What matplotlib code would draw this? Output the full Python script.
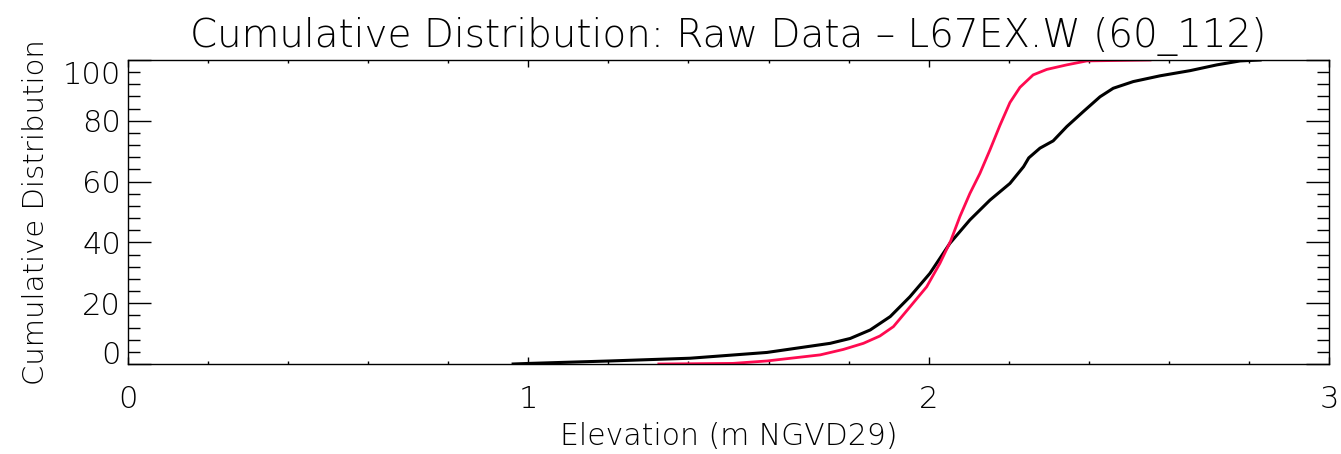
import matplotlib

matplotlib.use("Agg")
import matplotlib.pyplot as plt
from matplotlib.ticker import MultipleLocator, FixedLocator, FixedFormatter
from matplotlib.transforms import ScaledTranslation

# raw data cumulative distribution (black)
raw_x = [0.962, 1.004, 1.204, 1.404, 1.596, 1.754, 1.804, 1.854, 1.904, 1.953,
         2.003, 2.053, 2.103, 2.153, 2.203, 2.237, 2.250, 2.278, 2.311, 2.345,
         2.386, 2.428, 2.461, 2.511, 2.578, 2.653, 2.720, 2.778, 2.828]
raw_y = [0.0, 0.2, 1.0, 1.9, 3.8, 6.8, 8.4, 11.2, 15.6, 22.1,
         29.8, 39.7, 47.4, 53.9, 59.4, 64.9, 67.8, 71.0, 73.4, 78.1,
         83.0, 87.9, 90.7, 92.9, 94.8, 96.5, 98.4, 99.7, 100.0]

# fitted / smoothed distribution (red)
fit_x = [1.326, 1.511, 1.596, 1.729, 1.787, 1.837, 1.878, 1.912, 1.954, 1.995,
         2.028, 2.055, 2.078, 2.103, 2.128, 2.153, 2.178, 2.203, 2.228, 2.261,
         2.295, 2.345, 2.395, 2.553]
fit_y = [0.0, 0.2, 1.0, 3.0, 4.8, 6.8, 9.2, 12.3, 18.9, 25.4,
         33.1, 40.5, 48.5, 56.1, 62.7, 70.4, 78.5, 86.0, 91.0, 95.1,
         96.9, 98.4, 99.7, 100.0]

y_ticks = [0, 20, 40, 60, 80, 100]
y_labels = ["0", "20", "40", "60", "80", "100"]
x_ticks = [0, 1, 2, 3]
x_labels = ["0", "1", "2", "3"]

FONT = dict(family=["DejaVu Sans"], fontweight="light")

fig = plt.figure(figsize=(13.41, 4.54), dpi=100)
ax = fig.add_axes([128 / 1341, 90 / 454, 1201 / 1341, 304 / 454])

ax.plot(raw_x, raw_y, "-", color="black", lw=2.2)
ax.plot(fit_x, fit_y, "-", color="#ff0a50", lw=2.0)

ax.set_xlim(0, 3)
ax.set_ylim(0, 100)
ax.xaxis.set_major_locator(FixedLocator(x_ticks))
ax.xaxis.set_major_formatter(FixedFormatter(x_labels))
ax.xaxis.set_minor_locator(MultipleLocator(0.2))
ax.yaxis.set_major_locator(FixedLocator(y_ticks))
ax.yaxis.set_major_formatter(FixedFormatter(y_labels))
ax.yaxis.set_minor_locator(MultipleLocator(4))

ax.tick_params(axis="both", which="both", direction="in", top=True, right=True,
               width=1.0, color="black")
ax.tick_params(axis="x", which="major", length=5, pad=15, labelsize=22)
ax.tick_params(axis="x", which="minor", length=2.5)
ax.tick_params(axis="y", which="major", length=16.5, pad=5, labelsize=22)
ax.tick_params(axis="y", which="minor", length=8.5)
for sp in ax.spines.values():
    sp.set_linewidth(1.0)

for lab in ax.get_xticklabels() + ax.get_yticklabels():
    lab.set_fontweight("light")

# IDL pulls the end labels inside the axis range
ylabs = ax.get_yticklabels()
ylabs[0].set_transform(ylabs[0].get_transform() + ScaledTranslation(0, 11 / 100, fig.dpi_scale_trans))
ylabs[-1].set_transform(ylabs[-1].get_transform() + ScaledTranslation(0, -12 / 100, fig.dpi_scale_trans))

ax.set_title("Cumulative Distribution: Raw Data \u2013 L67EX.W (60_112)", fontsize=28, pad=9, **FONT)
ax.set_xlabel("Elevation (m NGVD29)", fontsize=21.5, labelpad=6, **FONT)
ax.set_ylabel("Cumulative Distribution", fontsize=21, labelpad=9, **FONT)

fig.savefig("out.png", dpi=100)
